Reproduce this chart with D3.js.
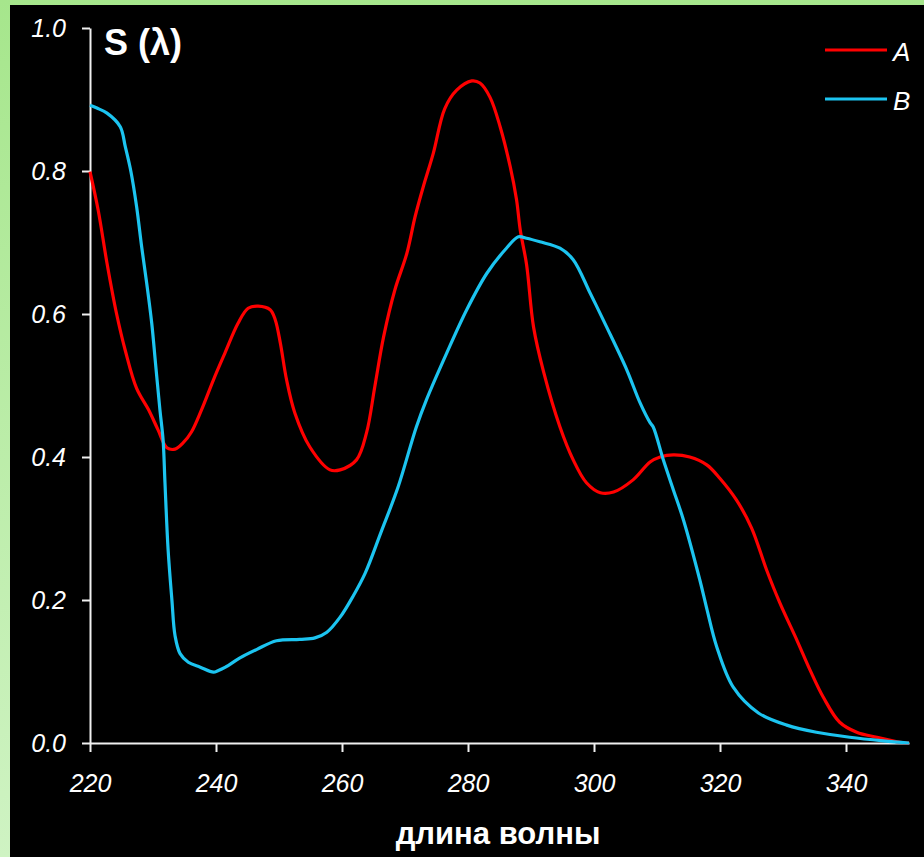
<!DOCTYPE html>
<html>
<head>
<meta charset="utf-8">
<script src="https://cdn.jsdelivr.net/npm/d3@7"></script>
<style>
  html, body { margin: 0; padding: 0; background: #000; }
  svg { display: block; }
  text { font-family: "Liberation Sans", Arial, sans-serif; fill: #fff; }
</style>
</head>
<body>
<svg id="chart" width="924" height="857"></svg>
<script>
// Spectral sensitivity S(λ) of two samples, wavelength in nm
const wavelengthA = [220, 221.3, 222.7, 224.2, 225.6, 227.4, 229.3, 230.8, 232.2, 233.5, 234.8, 236.1, 237.7, 239.6, 241.4, 243.5, 245.1, 246.7, 248.6, 249.4, 250.2, 251.2, 252.5, 254.9, 258.1, 259.7, 262.3, 263.9, 265.2, 266.6, 268.4, 270.3, 271.6, 272.9, 274.5, 276.3, 278.2, 280.6, 281.9, 283.5, 285.1, 286.7, 287.7, 288.3, 289.3, 290.4, 292.0, 294.6, 296.7, 298.8, 301.0, 303.1, 306.2, 308.9, 310.5, 312.6, 315.2, 317.9, 320.0, 322.6, 325.0, 327.4, 329.5, 332.2, 334.3, 336.4, 339.0, 341.7, 344.9, 348.6, 350];
const seriesA = [0.799, 0.745, 0.671, 0.601, 0.549, 0.496, 0.466, 0.438, 0.413, 0.411, 0.420, 0.435, 0.466, 0.508, 0.545, 0.587, 0.608, 0.611, 0.606, 0.592, 0.560, 0.508, 0.462, 0.414, 0.382, 0.382, 0.396, 0.434, 0.498, 0.568, 0.634, 0.685, 0.736, 0.778, 0.825, 0.887, 0.913, 0.926, 0.923, 0.903, 0.862, 0.806, 0.760, 0.717, 0.669, 0.582, 0.519, 0.442, 0.396, 0.364, 0.350, 0.351, 0.368, 0.393, 0.400, 0.403, 0.400, 0.389, 0.370, 0.340, 0.301, 0.242, 0.196, 0.144, 0.102, 0.064, 0.029, 0.015, 0.008, 0.001, 0];

const wavelengthB = [220, 221.1, 222.7, 224.8, 225.6, 226.5, 227.4, 228.2, 229.0, 229.8, 230.4, 231.1, 231.6, 231.9, 232.4, 233.0, 233.5, 234.3, 235.6, 237.5, 239.6, 240.3, 241.5, 243.8, 246.5, 249.6, 253.3, 255.7, 257.6, 259.7, 261.8, 263.7, 266.2, 268.9, 271.8, 273.4, 276.6, 279.8, 283.0, 286.1, 288.0, 289.3, 291.4, 294.6, 296.7, 299.4, 302.0, 305.2, 307.3, 308.9, 309.4, 311.0, 312.6, 314.2, 316.8, 317.9, 319.5, 322.1, 326.1, 330.6, 335.3, 340.6, 345.9, 350];
const seriesB = [0.892, 0.888, 0.881, 0.862, 0.834, 0.799, 0.750, 0.694, 0.643, 0.587, 0.531, 0.466, 0.424, 0.364, 0.270, 0.200, 0.150, 0.125, 0.113, 0.106, 0.099, 0.101, 0.106, 0.119, 0.131, 0.143, 0.145, 0.147, 0.155, 0.176, 0.206, 0.238, 0.295, 0.358, 0.442, 0.480, 0.545, 0.606, 0.657, 0.692, 0.708, 0.706, 0.701, 0.692, 0.676, 0.629, 0.582, 0.522, 0.476, 0.448, 0.442, 0.396, 0.354, 0.312, 0.228, 0.188, 0.134, 0.078, 0.042, 0.025, 0.015, 0.008, 0.003, 0];

const seriesNames = ["A", "B"];
const seriesColors = ["#ff0000", "#1cc4f0"];
const xTickValues = [220, 240, 260, 280, 300, 320, 340];
const yTickValues = [0, 0.2, 0.4, 0.6, 0.8, 1.0];
const xTitle = "длина волны";
const yTitle = "S (λ)";

const svg = d3.select("#chart");
const W = 924, H = 857;

// Frame: light green border with a black plotting panel
const defs = svg.append("defs");
const grad = defs.append("linearGradient").attr("id", "frameGrad")
  .attr("x1", 0).attr("y1", 0).attr("x2", 0).attr("y2", 1);
grad.append("stop").attr("offset", "0%").attr("stop-color", "#a6e68c");
grad.append("stop").attr("offset", "100%").attr("stop-color", "#cff3c3");
svg.append("rect").attr("width", W).attr("height", H).attr("fill", "url(#frameGrad)");
svg.append("rect").attr("x", 10).attr("y", 5).attr("width", W - 10).attr("height", H - 5).attr("fill", "#000");

const x = d3.scaleLinear().domain([220, 350]).range([90, 909]);
const y = d3.scaleLinear().domain([0, 1]).range([743, 28]);

// Axes
const axisColor = "#f0f0f0";
const xAxis = svg.append("g").attr("transform", `translate(0,${y(0)})`)
  .call(d3.axisBottom(x).tickValues(xTickValues).tickSize(9).tickPadding(22)
    .tickFormat(d3.format("d")).tickSizeOuter(0));
const yAxis = svg.append("g").attr("transform", `translate(${x(220)},0)`)
  .call(d3.axisLeft(y).tickValues(yTickValues).tickSize(8).tickPadding(16)
    .tickFormat(d3.format(".1f")).tickSizeOuter(0));

[xAxis, yAxis].forEach(g => {
  g.select(".domain").attr("stroke", axisColor).attr("stroke-width", 2);
  g.selectAll(".tick line").attr("stroke", axisColor).attr("stroke-width", 2);
  g.selectAll(".tick text")
    .attr("fill", "#fff")
    .style("font-family", '"Liberation Sans", Arial, sans-serif')
    .style("font-style", "italic")
    .style("font-size", "25px");
});
xAxis.selectAll(".tick text").attr("dy", "0.71em");

// Curves
const line = d3.line()
  .x(d => x(d[0]))
  .y(d => y(d[1]))
  .curve(d3.curveCatmullRom.alpha(0.5));

const curves = [
  d3.zip(wavelengthA, seriesA),
  d3.zip(wavelengthB, seriesB)
];

curves.forEach((pts, i) => {
  svg.append("path")
    .datum(pts)
    .attr("fill", "none")
    .attr("stroke", seriesColors[i])
    .attr("stroke-width", 3.2)
    .attr("stroke-linejoin", "round")
    .attr("d", line);
});

// Legend
const legend = svg.append("g");
seriesNames.forEach((name, i) => {
  const ly = 50 + i * 49;
  legend.append("line")
    .attr("x1", 825).attr("x2", 887).attr("y1", ly).attr("y2", ly)
    .attr("stroke", seriesColors[i]).attr("stroke-width", 3.2);
  legend.append("text")
    .attr("x", 893).attr("y", ly + 11)
    .style("font-style", "italic").style("font-size", "26px")
    .text(name);
});

// Titles
svg.append("text")
  .attr("x", 104).attr("y", 55)
  .style("font-weight", "bold").style("font-size", "36px")
  .text(yTitle);

svg.append("text")
  .attr("x", 498).attr("y", 844)
  .attr("text-anchor", "middle")
  .style("font-weight", "bold").style("font-size", "31px")
  .text(xTitle);
</script>
</body>
</html>
